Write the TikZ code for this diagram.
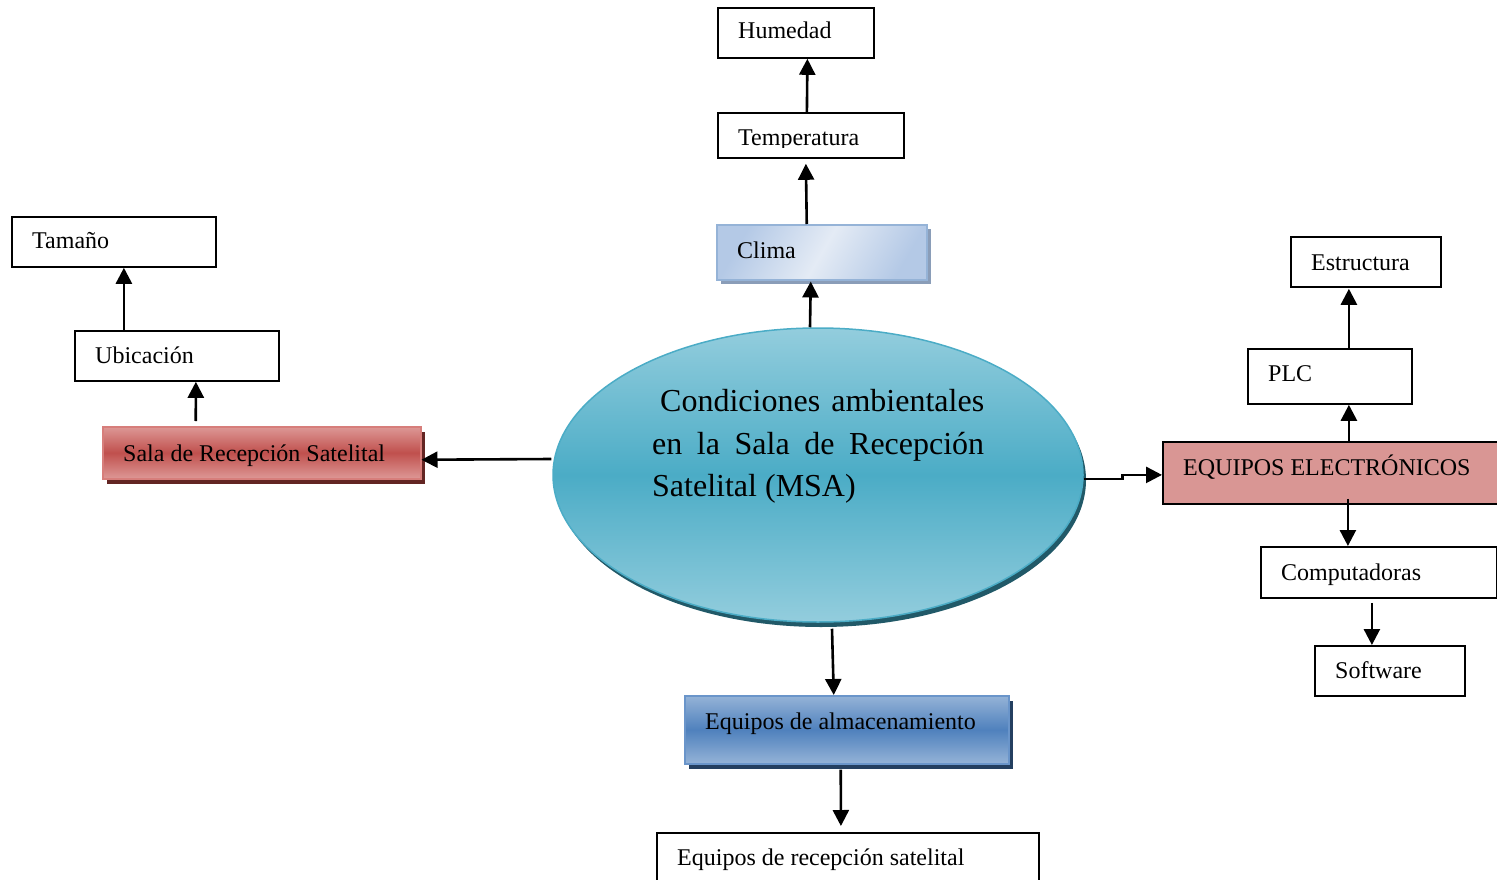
\documentclass[tikz,border=0pt]{standalone}
\usepackage{fontspec}
\setmainfont{Liberation Serif}
\usetikzlibrary{arrows.meta,shapes.geometric,shadows}

\definecolor{climaA}{HTML}{B4C9E6}
\definecolor{climaB}{HTML}{E4EBF5}
\definecolor{climaEdge}{HTML}{95B3D7}
\definecolor{climaShadow}{HTML}{8A9DB8}
\definecolor{salaA}{HTML}{DD9896}
\definecolor{salaB}{HTML}{C0504D}
\definecolor{salaEdge}{HTML}{D77E7B}
\definecolor{salaShadow}{HTML}{632523}
\definecolor{almA}{HTML}{95B3D7}
\definecolor{almB}{HTML}{4F81BD}
\definecolor{almEdge}{HTML}{6A95CA}
\definecolor{almShadow}{HTML}{243F60}
\definecolor{ellA}{HTML}{93CDDD}
\definecolor{ellB}{HTML}{4BACC6}
\definecolor{ellEdge}{HTML}{4BACC6}
\definecolor{ellShadow}{HTML}{215968}
\definecolor{eqFill}{HTML}{D99694}

\tikzset{
  box/.style={draw=black, line width=1.8pt, fill=white, anchor=north west, inner sep=0pt},
  lbl/.style={anchor=base west, inner sep=0pt, font=\fontsize{24}{28}\selectfont},
  big/.style={anchor=base west, inner sep=0pt, font=\fontsize{32}{42}\selectfont},
  arr/.style={line width=2.6pt, -{Triangle[length=16pt,width=16pt]}},
}

\begin{document}
\begin{tikzpicture}[x=1pt,y=-1pt]
\useasboundingbox (0,0) rectangle (1497,880);

% central ellipse
\node[ellipse, draw=ellEdge, line width=1.5pt,
      top color=ellA, bottom color=ellA, middle color=ellB,
      general shadow={fill=ellShadow, shadow xshift=3pt, shadow yshift=-5pt},
      minimum width=530pt, minimum height=294pt, inner sep=0pt] (ell) at (818,475) {};
\node[big] (ell1) at (660,411) {\makebox[324pt][s]{Condiciones ambientales}};
\node[big] (ell2) at (652,454) {\makebox[332pt][s]{en la Sala de Recepción}};
\node[big] (ell3) at (652,496) {Satelital (MSA)};

% upper branch
\node[box, minimum width=156pt, minimum height=50pt] (hum) at (717,7) {};
\node[lbl] (humt) at (738,39) {Humedad};
\node[box, minimum width=186pt, minimum height=45pt] (temp) at (717,112) {};
\begin{scope}
  \clip (718,113) rectangle (902,148);
  \node[lbl] (tempt) at (738,146) {Temperatura};
\end{scope}
\node[box, draw=climaEdge, line width=1.5pt,
      top color=climaA, bottom color=climaA, middle color=climaB, shading angle=60,
      general shadow={fill=climaShadow, shadow xshift=4pt, shadow yshift=-4pt},
      minimum width=210pt, minimum height=55pt] (clima) at (716,224) {};
\node[lbl] (climat) at (737,258) {Clima};

% left branch
\node[box, minimum width=204pt, minimum height=50pt] (tam) at (11,216) {};
\node[lbl] (tamt) at (32,248) {Tamaño};
\node[box, minimum width=204pt, minimum height=50pt] (ubi) at (74,330) {};
\node[lbl] (ubit) at (95,363) {Ubicación};
\node[box, draw=salaEdge, line width=1.5pt,
      top color=salaA, bottom color=salaA, middle color=salaB,
      general shadow={fill=salaShadow, shadow xshift=4pt, shadow yshift=-5pt},
      minimum width=318pt, minimum height=52pt] (sala) at (102,426) {};
\node[lbl] (salat) at (123,461) {Sala de Recepción Satelital};

% right branch
\node[box, minimum width=150pt, minimum height=50pt] (est) at (1290,236) {};
\node[lbl] (estt) at (1311,270) {Estructura};
\node[box, minimum width=164pt, minimum height=55pt] (plc) at (1247,348) {};
\node[lbl] (plct) at (1268,381) {PLC};
\node[box, fill=eqFill, minimum width=340pt, minimum height=62pt] (eq) at (1162,441) {};
\node[lbl] (eqt) at (1183,475) {EQUIPOS ELECTRÓNICOS};
\node[box, minimum width=236pt, minimum height=51pt] (comp) at (1260,546) {};
\node[lbl] (compt) at (1281,580) {Computadoras};
\node[box, minimum width=150pt, minimum height=50pt] (soft) at (1314,645) {};
\node[lbl] (softt) at (1335,678) {Software};

% lower branch
\node[box, draw=almEdge, line width=1.5pt,
      top color=almA, bottom color=almA, middle color=almB,
      general shadow={fill=almShadow, shadow xshift=4pt, shadow yshift=-5pt},
      minimum width=324pt, minimum height=68pt] (alm) at (684,695) {};
\node[lbl] (almt) at (705,729) {Equipos de almacenamiento};
\node[box, minimum width=382pt, minimum height=60pt] (rec) at (656,832) {};
\node[lbl] (rect) at (677,865) {Equipos de recepción satelital};

% connectors
\draw[arr] ([xshift=-8pt]ell.north) -- ([xshift=-11pt,yshift=-1pt]clima.south);
\draw[arr] ([xshift=-15pt]clima.north) -- ([xshift=-5pt,yshift=-5pt]temp.south);
\draw[arr] ([xshift=-4pt]temp.north) -- ([xshift=11.5pt]hum.south);

\draw[arr] ([xshift=-1pt,yshift=16pt]ell.west) -- ([yshift=-7pt]sala.east);
\draw[arr] ([xshift=-66pt,yshift=5pt]sala.north) -- ([xshift=19pt]ubi.south);
\draw[arr] ([xshift=-53pt]ubi.north) -- ([xshift=10pt]tam.south);

\draw[arr] ([yshift=-4pt]ell.east) -- ++(39,0) |- ([yshift=-2pt]eq.west);
\draw[arr] ([xshift=16pt]eq.north) -- ([xshift=19pt]plc.south);
\draw[arr] ([xshift=19pt]plc.north) -- ([xshift=-17pt,yshift=-1pt]est.south);
\draw[arr] ([xshift=15pt,yshift=6pt]eq.south) -- ([xshift=-31pt]comp.north);
\draw[arr] ([xshift=-7pt,yshift=-4pt]comp.south) -- ([xshift=-18pt]soft.north);

\draw[arr] ([xshift=14pt,yshift=-6pt]ell.south) -- ([xshift=-13pt]alm.north);
\draw[arr] ([xshift=-6pt,yshift=-5pt]alm.south) -- ([xshift=-7pt,yshift=6pt]rec.north);
\end{tikzpicture}
\end{document}
